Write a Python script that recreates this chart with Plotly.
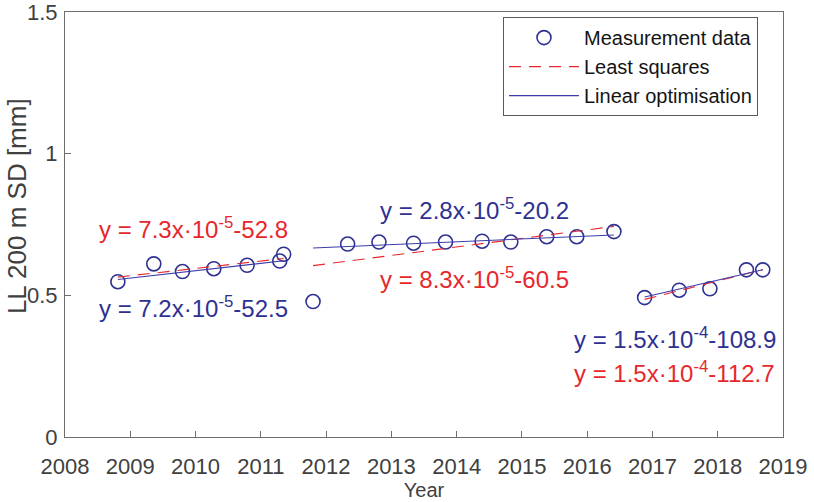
import numpy as np
import plotly.graph_objects as go

# Measurement data (decimal year, LL 200 m SD in mm), grouped by segment
seg1_year = [2008.81, 2009.36, 2009.80, 2010.28, 2010.79, 2011.29, 2011.35]
seg1_val = [0.548, 0.611, 0.584, 0.594, 0.606, 0.621, 0.645]
seg2_year = [2011.80, 2012.33, 2012.81, 2013.34, 2013.83, 2014.39, 2014.83, 2015.38, 2015.84, 2016.41]
seg2_val = [0.478, 0.681, 0.688, 0.684, 0.688, 0.691, 0.688, 0.707, 0.707, 0.725]
seg3_year = [2016.88, 2017.41, 2017.88, 2018.44, 2018.69]
seg3_val = [0.492, 0.518, 0.523, 0.590, 0.590]

# Linear optimisation lines: start/end year and value per segment
lin_x0 = [2008.81, 2011.80, 2016.88]
lin_x1 = [2011.35, 2016.41, 2018.69]
lin_y0 = [0.556, 0.667, 0.494]
lin_y1 = [0.622, 0.713, 0.590]

# Equation labels
eq_ls = ["y = 7.3x·10<sup>-5</sup>-52.8", "y = 8.3x·10<sup>-5</sup>-60.5", "y = 1.5x·10<sup>-4</sup>-112.7"]
eq_lin = ["y = 7.2x·10<sup>-5</sup>-52.5", "y = 2.8x·10<sup>-5</sup>-20.2", "y = 1.5x·10<sup>-4</sup>-108.9"]
eq_ls_pos = [(2008.49, 0.738), (2012.80, 0.562), (2015.77, 0.228)]
eq_lin_pos = [(2008.49, 0.460), (2012.80, 0.804), (2015.77, 0.348)]

x_ticks = list(range(2008, 2020))
y_ticks = [0, 0.5, 1, 1.5]
y_title = "LL 200 m SD [mm]"

BLUE = "rgb(46,49,146)"
RED = "rgb(230,40,45)"
LINE_BLUE = "rgb(60,60,170)"
GRAY = "rgb(64,64,64)"
FONT = "Liberation Sans, Arial, sans-serif"

segments = [(seg1_year, seg1_val), (seg2_year, seg2_val), (seg3_year, seg3_val)]

fig = go.Figure()

all_x = seg1_year + seg2_year + seg3_year
all_y = seg1_val + seg2_val + seg3_val
fig.add_trace(go.Scatter(
    x=all_x, y=all_y, mode="markers", name="Measurement data",
    marker=dict(symbol="circle-open", size=14, color=BLUE, line=dict(width=1.6, color=BLUE)),
))

for i, (sx, sy) in enumerate(segments):
    p = np.polyfit(sx, sy, 1)
    xs = [sx[0], sx[-1]]
    ys = list(np.polyval(p, xs))
    fig.add_trace(go.Scatter(
        x=xs, y=ys, mode="lines", name="Least squares", legendgroup="ls",
        showlegend=(i == 0), line=dict(color=RED, width=1.1, dash="12px,8px"),
    ))

for i in range(3):
    fig.add_trace(go.Scatter(
        x=[lin_x0[i], lin_x1[i]], y=[lin_y0[i], lin_y1[i]], mode="lines",
        name="Linear optimisation", legendgroup="lin", showlegend=(i == 0),
        line=dict(color=LINE_BLUE, width=1.1),
    ))

for txt, (ax, ay) in zip(eq_ls, eq_ls_pos):
    fig.add_annotation(x=ax, y=ay, text=txt, showarrow=False, xanchor="left", yanchor="middle",
                       font=dict(family=FONT, size=24, color=RED))
for txt, (ax, ay) in zip(eq_lin, eq_lin_pos):
    fig.add_annotation(x=ax, y=ay, text=txt, showarrow=False, xanchor="left", yanchor="middle",
                       font=dict(family=FONT, size=24, color=BLUE))

# y-axis title as a rotated annotation (placed slightly above plot centre, as in the reference)
fig.add_annotation(xref="paper", yref="paper", x=-0.067, y=0.543, text=y_title, textangle=-90,
                   showarrow=False, xanchor="center", yanchor="middle",
                   font=dict(family=FONT, size=26, color=GRAY))

axis_common = dict(showline=True, mirror=True, linecolor="rgb(110,110,110)", linewidth=1,
                   ticks="inside", ticklen=6, tickcolor="rgb(110,110,110)", showgrid=False,
                   zeroline=False, tickfont=dict(family=FONT, size=22, color=GRAY),
                   ticklabeloverflow="allow", automargin=False)

fig.update_layout(
    width=814, height=502,
    margin=dict(l=65, r=31, t=12, b=65, autoexpand=False),
    paper_bgcolor="white", plot_bgcolor="white",
    font=dict(family=FONT, color=GRAY),
    xaxis=dict(range=[2008, 2019], tickvals=x_ticks, ticktext=[str(v) for v in x_ticks],
               ticklabelstandoff=10,
               title=dict(text="Year", font=dict(family=FONT, size=20, color=GRAY), standoff=2),
               **axis_common),
    yaxis=dict(range=[0, 1.5], tickvals=y_ticks, ticktext=["0", "0.5", "1", "1.5"],
               ticklabelstandoff=2, **axis_common),
    legend=dict(x=0.61, y=0.988, xanchor="left", yanchor="top", bgcolor="white",
                bordercolor="rgb(90,90,90)", borderwidth=1, itemwidth=70,
                font=dict(family=FONT, size=20, color="rgb(20,20,20)"), tracegroupgap=0),
)

fig.write_html("out.html")
